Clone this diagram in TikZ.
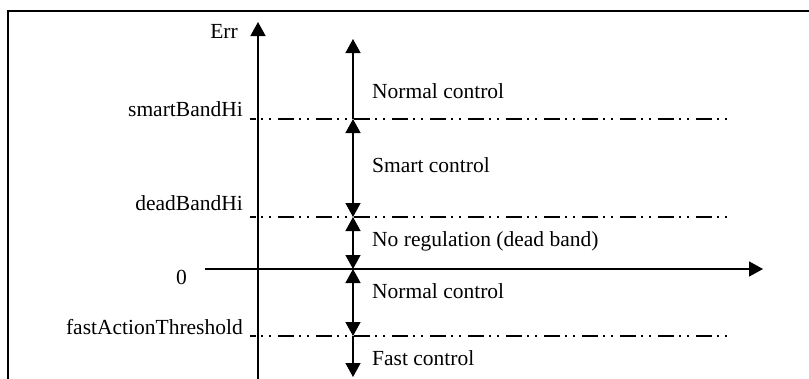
\documentclass[tikz,border=0pt]{standalone}
\usepackage{fontspec}
\setmainfont{Liberation Serif}
\usetikzlibrary{arrows.meta, positioning}

\begin{document}
\begin{tikzpicture}[
  x=1bp, y=-1bp,
  frame/.style={line width=1.8bp},
  axis/.style={line width=1.6bp, -{Triangle[length=14bp, width=15bp]}},
  level/.style={line width=1.6bp, dash pattern=on 16bp off 5bp on 2bp off 6bp on 2bp off 7bp, dash phase=10bp},
  band/.style={line width=1.4bp, {Triangle[length=14bp, width=15bp]}-{Triangle[length=14bp, width=15bp]}},
  upband/.style={line width=1.4bp, -{Triangle[length=14bp, width=15bp]}},
  lbl/.style={font=\fontsize{21.5bp}{25bp}\selectfont, inner sep=0pt},
  lvl/.style={lbl, anchor=base east},
  zone/.style={lbl, anchor=base west}
]
\useasboundingbox (0,0) rectangle (809,378);
\clip (0,0) rectangle (809,378);

% Frame
\draw[frame] (8,382) |- (812,11);

% Axes
\coordinate (errB) at (258,380);
\coordinate (errT) at (258,22);
\coordinate (zeroL) at (205,269);
\coordinate (zeroR) at (763,269);
\draw[axis] (errB) -- (errT);
\draw[axis] (zeroL) -- (zeroR);
\node[lbl, anchor=base east] (err) at (238,38) {Err};

% Levels
\coordinate (sbhL) at (250,119);  \coordinate (sbhR) at (728,119);
\coordinate (dbhL) at (250,217);  \coordinate (dbhR) at (728,217);
\coordinate (fatL) at (250,336);  \coordinate (fatR) at (728,336);
\draw[level] (sbhL) -- (sbhR);
\draw[level] (dbhL) -- (dbhR);
\draw[level] (fatL) -- (fatR);

\node[lvl] (sbh) at (243,116.5) {smartBandHi};
\node[lvl] (dbh) at (243,210) {deadBandHi};
\node[lvl] (zero) at (187,284) {0};
\node[lvl] (fat) at (243,334) {fastActionThreshold};

% Bands
\coordinate (bTop) at (353,39);
\coordinate (bSbh) at (353,119);
\coordinate (bDbh) at (353,217);
\coordinate (bZero) at (353,269);
\coordinate (bFat) at (353,336);
\coordinate (bBot) at (353,377);
\draw[upband] (bSbh) -- (bTop);
\draw[band] (bDbh) -- (bSbh);
\draw[band] (bZero) -- (bDbh);
\draw[band] (bFat) -- (bZero);
\draw[upband] (bFat) -- (bBot);

\node[zone] (normHi) at (372,98.5) {Normal control};
\node[zone] (smart) at (372,172.5) {Smart control};
\node[zone] (dead) at (372,246) {No regulation (dead band)};
\node[zone] (normLo) at (372,298) {Normal control};
\node[zone] (fast) at (372,365) {Fast control};

\end{tikzpicture}
\end{document}
